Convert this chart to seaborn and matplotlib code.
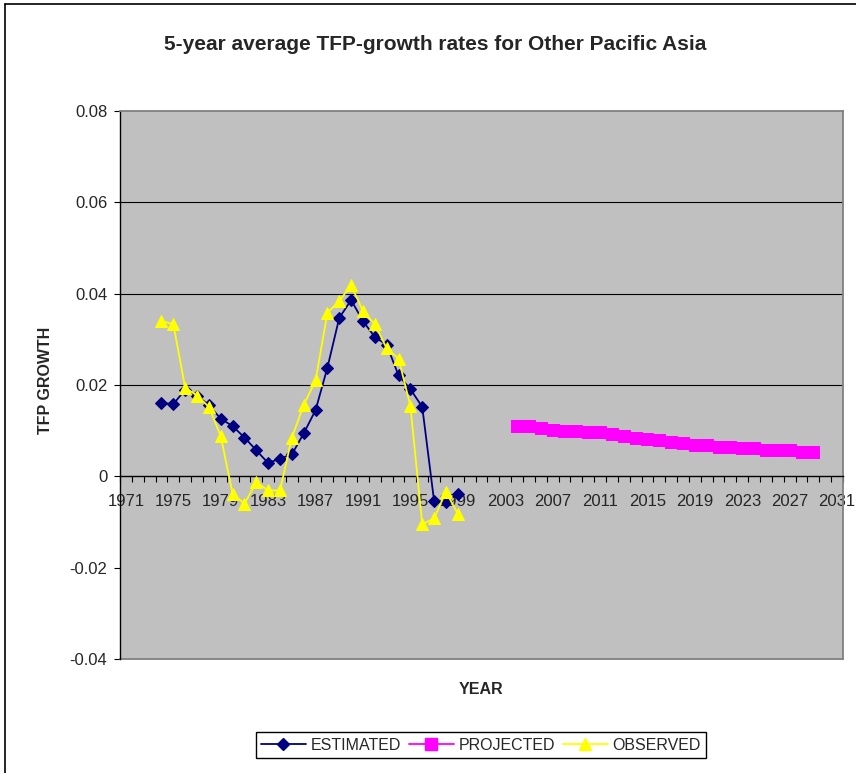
import numpy as np
import pandas as pd
import matplotlib
matplotlib.use("Agg")
import matplotlib.pyplot as plt
from matplotlib.lines import Line2D
from matplotlib.ticker import FixedLocator, FixedFormatter
import seaborn as sns

# Data
HIST_YEARS = list(range(1974, 2000))
ESTIMATED = [0.0161, 0.0158, 0.0190, 0.0176, 0.0156, 0.0126, 0.0110, 0.0085,
             0.0057, 0.0029, 0.0039, 0.0048, 0.0094, 0.0145, 0.0238, 0.0347,
             0.0386, 0.0340, 0.0305, 0.0288, 0.0221, 0.0191, 0.0152, -0.0054,
             -0.0056, -0.0039]
OBSERVED = [0.0340, 0.0333, 0.0194, 0.0177, 0.0152, 0.0088, -0.0038, -0.0060,
            -0.0013, -0.0031, -0.0031, 0.0085, 0.0156, 0.0210, 0.0358, 0.0384,
            0.0418, 0.0362, 0.0333, 0.0280, 0.0258, 0.0154, -0.0105, -0.0092,
            -0.0034, -0.0082]
PROJ_YEARS = list(range(2004, 2030))
PROJECTED = [0.0110, 0.0110, 0.0106, 0.0102, 0.0099, 0.0099, 0.0096, 0.0096,
             0.0092, 0.0088, 0.0085, 0.0081, 0.0079, 0.0075, 0.0072, 0.0068,
             0.0068, 0.0064, 0.0064, 0.0061, 0.0061, 0.0057, 0.0057, 0.0057,
             0.0053, 0.0053]
X_LABELS = list(range(1971, 2032, 4))
Y_TICKS = [-0.04, -0.02, 0, 0.02, 0.04, 0.06, 0.08]
Y_LABELS = ['-0.04', '-0.02', '0', '0.02', '0.04', '0.06', '0.08']

sns.set_style("white")
plt.rcParams['font.family'] = ['Liberation Sans', 'DejaVu Sans']

W, H = 856, 773
fig = plt.figure(figsize=(W / 100, H / 100), dpi=100)
ax = fig.add_axes([120 / W, 1 - 659 / H, 723 / W, (659 - 111) / H])
ax.set_facecolor('#C0C0C0')

hist = pd.DataFrame({'year': HIST_YEARS, 'est': ESTIMATED, 'obs': OBSERVED})
proj = pd.DataFrame({'year': PROJ_YEARS, 'proj': PROJECTED})

# gridlines
for y in [0.02, 0.04, 0.06]:
    ax.axhline(y, color='black', lw=0.8, zorder=1)

sns.lineplot(data=hist, x='year', y='est', ax=ax, color='#000080', lw=1.3,
             marker='D', markersize=6, markeredgecolor='#000080', zorder=3)
sns.lineplot(data=proj, x='year', y='proj', ax=ax, color='#FF00FF', lw=1.3,
             marker='s', markersize=8, markeredgecolor='#FF00FF', zorder=3)
sns.lineplot(data=hist, x='year', y='obs', ax=ax, color='#FFFF00', lw=1.3,
             marker='^', markersize=8, markeredgecolor='#FFFF00', zorder=4)

ax.set_xlim(1970.5, 2031.5)
ax.set_ylim(-0.04, 0.08)
ax.set_xlabel('')
ax.set_ylabel('')

# category axis: labels every 4 years, tick marks between categories
ax.xaxis.set_major_locator(FixedLocator(X_LABELS))
ax.xaxis.set_major_formatter(FixedFormatter([str(v) for v in X_LABELS]))
ax.xaxis.set_minor_locator(FixedLocator(np.arange(1970.5, 2032, 1)))
ax.tick_params(axis='x', which='major', length=0, pad=13, labelsize=12,
               bottom=True)
ax.tick_params(axis='x', which='minor', length=4, width=0.8, direction='out',
               color='black', bottom=True)
ax.yaxis.set_major_locator(FixedLocator(Y_TICKS))
ax.yaxis.set_major_formatter(FixedFormatter(Y_LABELS))
ax.tick_params(axis='y', length=4, width=0.8, direction='out', pad=5,
               labelsize=12, left=True, color='black')

ax.spines['bottom'].set_position(('data', 0))
ax.spines['bottom'].set_color('black')
ax.spines['bottom'].set_linewidth(1.0)
ax.spines['left'].set_color('black')
ax.spines['left'].set_linewidth(1.0)
for s in ['top', 'right']:
    ax.spines[s].set_color('#808080')
    ax.spines[s].set_linewidth(1.3)
ax.axhline(-0.04, color='#808080', lw=1.3, clip_on=False, zorder=2)

# titles
fig.text(435 / W, 1 - 45 / H, '5-year average TFP-growth rates for Other Pacific Asia',
         ha='center', va='center', fontsize=15, fontweight='bold')
fig.text(45 / W, 1 - 380 / H, 'TFP GROWTH', rotation=90, ha='center',
         va='center', fontsize=11.5, fontweight='bold')
fig.text(481 / W, 1 - 690 / H, 'YEAR', ha='center', va='center',
         fontsize=11.5, fontweight='bold')

# legend
handles = [
    Line2D([], [], color='#000080', lw=1.3, marker='D', markersize=6),
    Line2D([], [], color='#FF00FF', lw=1.3, marker='s', markersize=8),
    Line2D([], [], color='#FFFF00', lw=1.3, marker='^', markersize=8),
]
leg = fig.legend(handles, ['ESTIMATED', 'PROJECTED', 'OBSERVED'], ncol=3,
                 loc='center', bbox_to_anchor=(481 / W, 1 - 745 / H),
                 fontsize=11.5, frameon=True, fancybox=False, shadow=False,
                 handlelength=2.8, handletextpad=0.3, columnspacing=0.5,
                 borderpad=0.35, borderaxespad=0)
leg.get_frame().set_edgecolor('black')
leg.get_frame().set_linewidth(1.0)
leg.get_frame().set_alpha(1)

# outer chart border
fig.add_artist(Line2D([5 / W, 5 / W], [0, 1 - 4 / H], color='black', lw=1.2,
                      transform=fig.transFigure))
fig.add_artist(Line2D([5 / W, 1], [1 - 4 / H, 1 - 4 / H], color='black', lw=1.2,
                      transform=fig.transFigure))

fig.savefig('out.png', dpi=100)
